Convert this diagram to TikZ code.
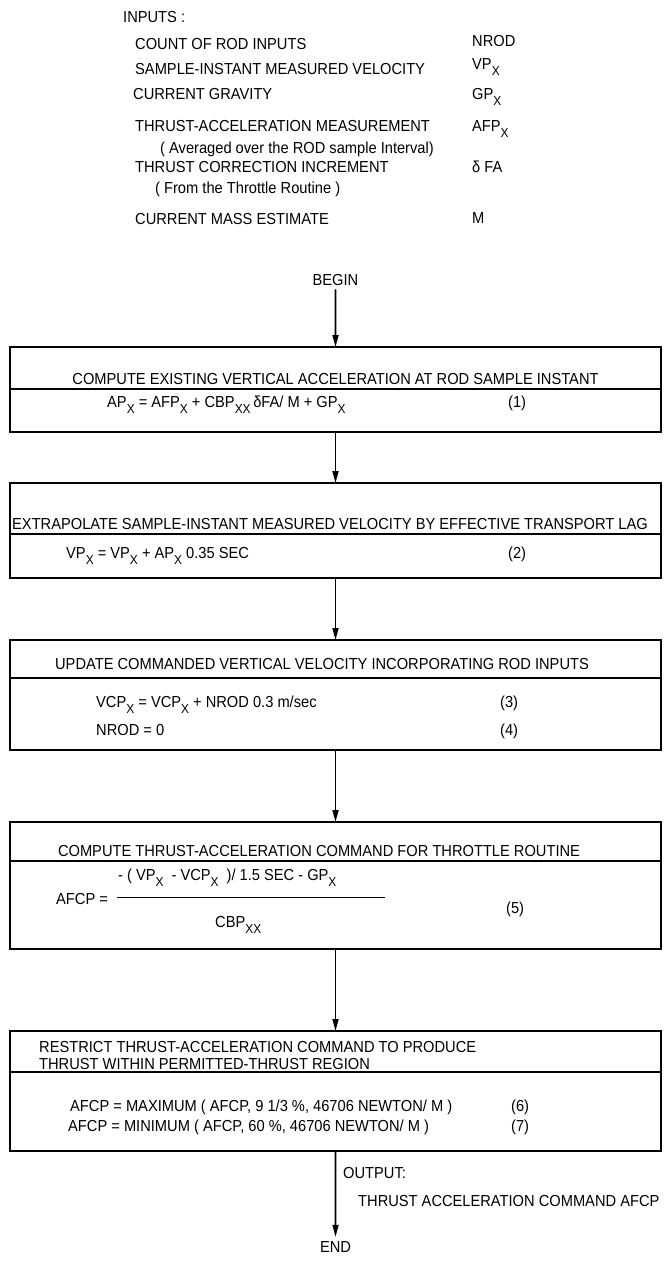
\documentclass[tikz,border=0pt]{standalone}
\usepackage{fontspec}
\setmainfont{Liberation Sans}[FakeStretch=0.92]
\usepackage{tikz}
\usetikzlibrary{positioning, arrows.meta}
\newcommand{\lo}[1]{\raisebox{-6bp}{\fontsize{13}{13}\selectfont #1}}
\tikzset{
  txt/.style={anchor=base west, inner sep=0pt, font=\fontsize{16}{18}\selectfont},
  ttl/.style={anchor=base, inner sep=0pt, font=\fontsize{16}{18}\selectfont},
  blk/.style={draw, line width=1.3bp, minimum width=651bp, inner sep=0pt, outer sep=0pt},
  flow/.style={-{Triangle[length=12bp, width=6bp]}, line width=1.6bp},
  bar/.style={line width=1bp}
}

\begin{document}
\begin{tikzpicture}[x=1bp, y=-1bp]
  \useasboundingbox (0,0) rectangle (669,1268);
  % inputs
  \node[txt] (inp) at (123,22) {INPUTS :};
  \node[txt] (in1) at (135,49) {COUNT OF ROD INPUTS};
  \node[txt] (in2) at (135,74) {SAMPLE-INSTANT MEASURED VELOCITY};
  \node[txt] (in3) at (133,99) {CURRENT GRAVITY};
  \node[txt] (in4) at (135,131) {THRUST-ACCELERATION MEASUREMENT};
  \node[txt] (in4a) at (160,153) {( Averaged over the ROD sample Interval)};
  \node[txt] (in5) at (135,172) {THRUST CORRECTION INCREMENT};
  \node[txt] (in5a) at (155,193) {( From the Throttle Routine )};
  \node[txt] (in6) at (135,224) {CURRENT MASS ESTIMATE};
  \node[txt] (sy1) at (472,46) {NROD};
  \node[txt] (sy2) at (472,69) {VP\lo{X}};
  \node[txt] (sy3) at (472,99) {GP\lo{X}};
  \node[txt] (sy4) at (472,131) {AFP\lo{X}};
  \node[txt] (sy5) at (472,172) {δ FA};
  \node[txt] (sy6) at (472,223) {M};
  % begin
  \node[ttl, inner sep=4pt] (begin) at (335.5,285) {BEGIN};
  % box 1
  \node[blk, minimum height=42bp, anchor=north west] (h1) at (10,347) {};
  \node[blk, minimum height=43bp, below=0pt of h1] (b1) {};
  \node[ttl] (t1) at (335.5,384) {COMPUTE EXISTING VERTICAL ACCELERATION AT ROD SAMPLE INSTANT};
  \node[txt] (e1) at (107,407) {AP\lo{X} = AFP\lo{X} + CBP\lo{XX}\,δFA/ M + GP\lo{X}};
  \node[txt] (n1) at (508,407) {(1)};
  % box 2
  \node[blk, minimum height=51bp, anchor=north west] (h2) at (10,483) {};
  \node[blk, minimum height=44bp, below=0pt of h2] (b2) {};
  \node[txt] (t2) at (12,529) {EXTRAPOLATE SAMPLE-INSTANT MEASURED VELOCITY BY EFFECTIVE TRANSPORT LAG};
  \node[txt] (e2) at (66,558) {VP\lo{X} = VP\lo{X} + AP\lo{X} 0.35 SEC};
  \node[txt] (n2) at (508,558) {(2)};
  % box 3
  \node[blk, minimum height=38bp, anchor=north west] (h3) at (10,640) {};
  \node[blk, minimum height=72bp, below=0pt of h3] (b3) {};
  \node[ttl] (t3) at (322,669) {UPDATE COMMANDED VERTICAL VELOCITY INCORPORATING ROD INPUTS};
  \node[txt] (e3) at (96,707) {VCP\lo{X} = VCP\lo{X} + NROD 0.3 m/sec};
  \node[txt] (n3) at (500,707) {(3)};
  \node[txt] (e4) at (96,735) {NROD = 0};
  \node[txt] (n4) at (500,735) {(4)};
  % box 4
  \node[blk, minimum height=39bp, anchor=north west] (h4) at (10,822) {};
  \node[blk, minimum height=88bp, below=0pt of h4] (b4) {};
  \node[ttl] (t4) at (319,856) {COMPUTE THRUST-ACCELERATION COMMAND FOR THROTTLE ROUTINE};
  \node[txt] (e5) at (56,904) {AFCP =};
  \node[txt] (num) at (118,880) {- ( VP\lo{X}\enspace - VCP\lo{X}\enspace )/ 1.5 SEC - GP\lo{X}};
  \coordinate (barL) at (117,897);
  \coordinate (barR) at (385,897);
  \draw[bar] (barL) -- (barR);
  \node[txt] (den) at (215,927) {CBP\lo{XX}};
  \node[txt] (n5) at (506,913) {(5)};
  % box 5
  \node[blk, minimum height=41bp, anchor=north west] (h5) at (10,1031) {};
  \node[blk, minimum height=79bp, below=0pt of h5] (b5) {};
  \node[txt] (t5a) at (39,1052) {RESTRICT THRUST-ACCELERATION COMMAND TO PRODUCE};
  \node[txt] (t5b) at (39,1069) {THRUST WITHIN PERMITTED-THRUST REGION};
  \node[txt] (e6) at (70,1111) {AFCP = MAXIMUM ( AFCP, 9 1/3 \%, 46706 NEWTON/ M )};
  \node[txt] (n6) at (511,1111) {(6)};
  \node[txt] (e7) at (68,1131) {AFCP = MINIMUM ( AFCP, 60 \%, 46706 NEWTON/ M )};
  \node[txt] (n7) at (511,1131) {(7)};
  % output
  \node[txt] (out) at (343,1178) {OUTPUT:};
  \node[txt] (outv) at (358,1206) {THRUST ACCELERATION COMMAND AFCP};
  \node[ttl, inner sep=4pt] (endn) at (335.5,1252) {END};
  % flows
  \draw[flow] (begin) -- (h1);
  \draw[flow] (b1) -- (h2);
  \draw[flow] (b2) -- (h3);
  \draw[flow] (b3) -- (h4);
  \draw[flow] (b4) -- (h5);
  \draw[flow] (b5) -- (endn);
\end{tikzpicture}
\end{document}
